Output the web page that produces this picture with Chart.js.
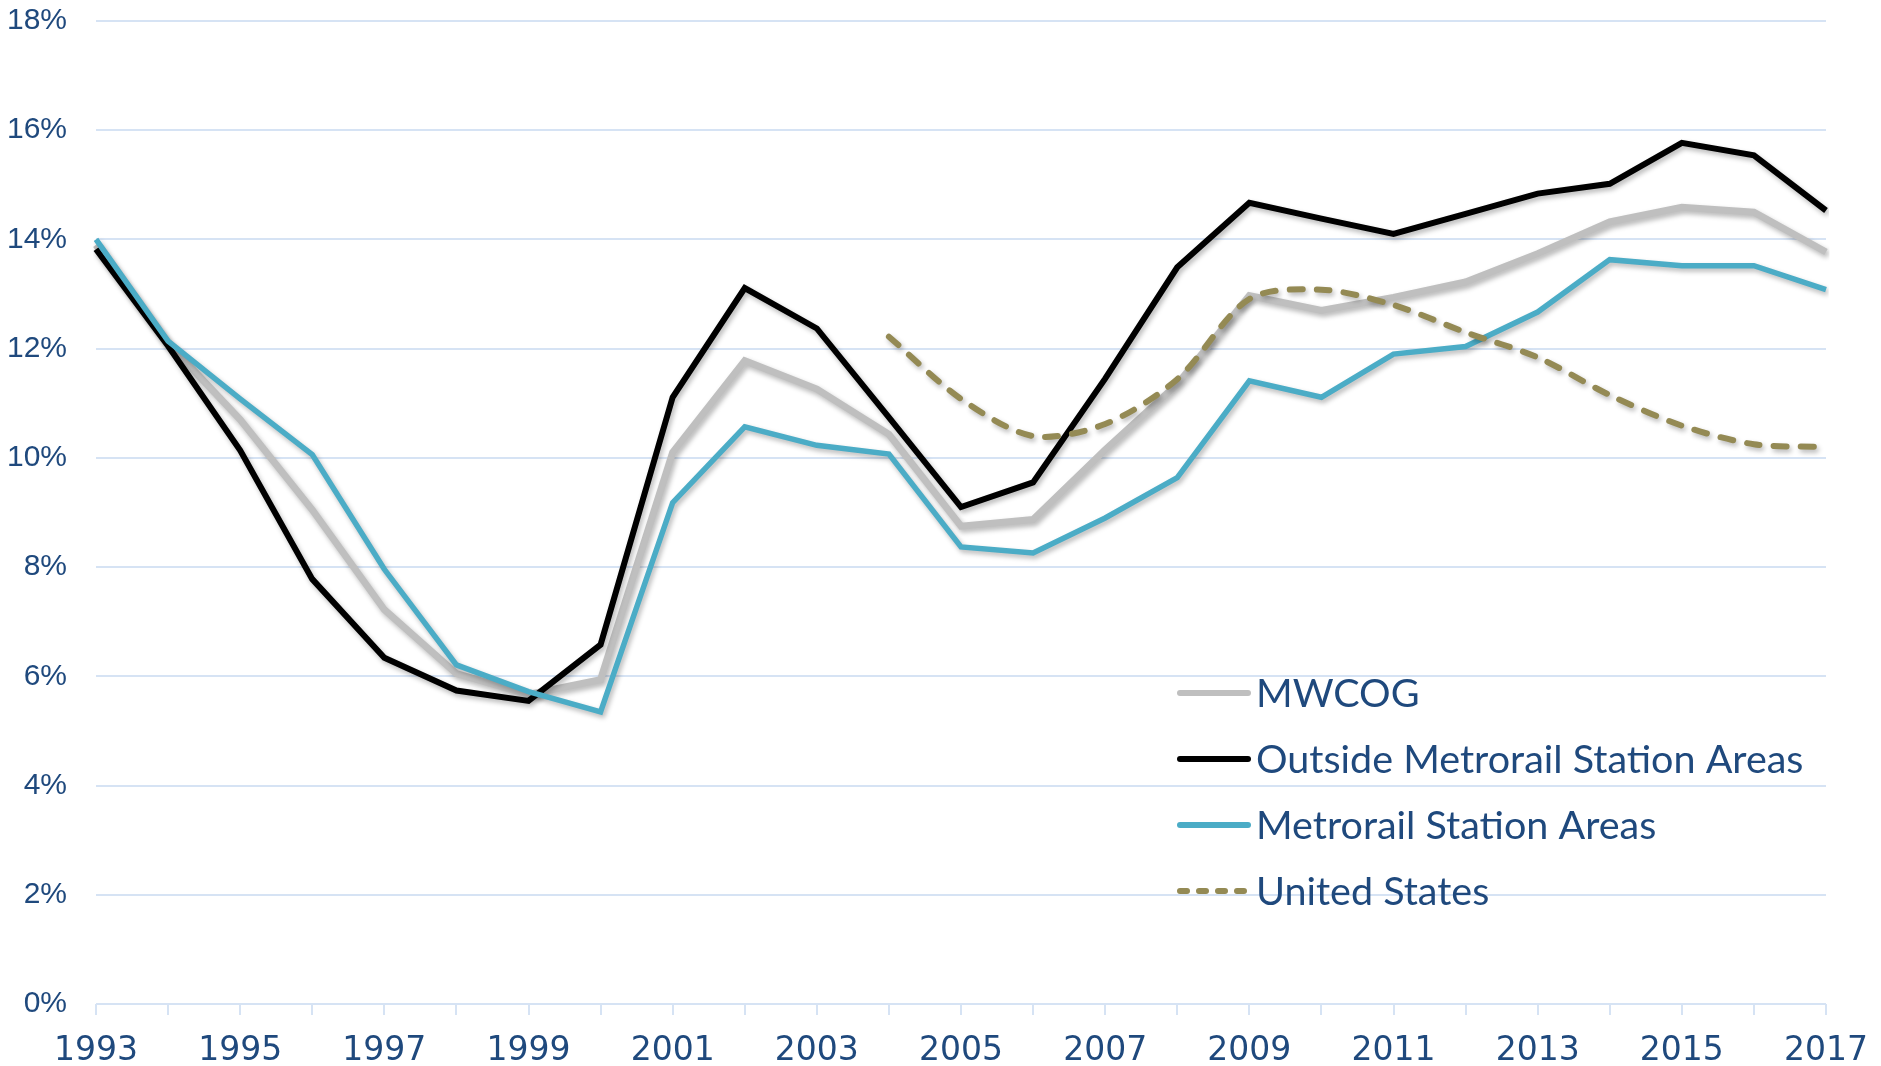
<!DOCTYPE html>
<html>
<head>
<meta charset="utf-8">
<script src="https://cdn.jsdelivr.net/npm/chart.js@4/dist/chart.umd.min.js"></script>
<style>
  html, body { margin: 0; padding: 0; background: #ffffff; }
  #wrap { width: 1881px; height: 1066px; position: relative; }
</style>
</head>
<body>
<div id="wrap"><canvas id="c" width="1881" height="1066"></canvas></div>
<script>
const years = ['1993','1994','1995','1996','1997','1998','1999','2000','2001','2002','2003','2004','2005','2006','2007','2008','2009','2010','2011','2012','2013','2014','2015','2016','2017'];

const mwcog = [13.9, 12.1, 10.7, 9.05, 7.22, 6.05, 5.67, 5.94, 10.1, 11.78, 11.26, 10.43, 8.75, 8.87, 10.15, 11.35, 12.97, 12.70, 12.94, 13.22, 13.74, 14.32, 14.59, 14.50, 13.77];
const outsideMetro = [13.82, 12.05, 10.14, 7.78, 6.34, 5.74, 5.55, 6.58, 11.11, 13.11, 12.37, 10.74, 9.10, 9.55, 11.45, 13.49, 14.67, 14.38, 14.10, 14.47, 14.84, 15.02, 15.77, 15.54, 14.53];
const metroStation = [14.0, 12.14, 11.08, 10.06, 7.96, 6.21, 5.72, 5.35, 9.18, 10.57, 10.23, 10.07, 8.37, 8.26, 8.90, 9.64, 11.41, 11.11, 11.90, 12.04, 12.67, 13.63, 13.52, 13.52, 13.08];
const unitedStates = [null, null, null, null, null, null, null, null, null, null, null, 12.22, 11.08, 10.40, 10.62, 11.44, 12.91, 13.08, 12.80, 12.30, 11.84, 11.15, 10.59, 10.25, 10.20];

const yTicks = [0, 2, 4, 6, 8, 10, 12, 14, 16, 18];

const TEXT = '#1f497d';
const GRID = '#d6e3f4';

const shadowPlugin = {
  id: 'lineShadow',
  beforeDatasetsDraw(chart) {
    const ctx = chart.ctx;
    ctx.save();
    ctx.shadowColor = 'rgba(0,0,0,0.28)';
    ctx.shadowBlur = 5;
    ctx.shadowOffsetX = 2;
    ctx.shadowOffsetY = 3;
  },
  afterDatasetsDraw(chart) {
    chart.ctx.restore();
  }
};

const legendPlugin = {
  id: 'insideLegend',
  afterDraw(chart) {
    const ctx = chart.ctx;
    const rows = [693, 759, 825, 891];
    const x0 = 1180, x1 = 1248, tx = 1256;
    ctx.save();
    chart.data.datasets.forEach((ds, i) => {
      const y = rows[i];
      ctx.beginPath();
      ctx.lineWidth = 6;
      ctx.lineCap = 'round';
      ctx.strokeStyle = ds.borderColor;
      ctx.setLineDash(ds.borderDash ? [7, 12] : []);
      ctx.moveTo(x0, y);
      ctx.lineTo(x1, y);
      ctx.stroke();
      ctx.setLineDash([]);
      ctx.fillStyle = TEXT;
      ctx.font = '39.5px Lato';
      ctx.textBaseline = 'alphabetic';
      ctx.textAlign = 'left';
      ctx.fillText(ds.label, tx, y + 13.5);
    });
    ctx.restore();
  }
};

new Chart(document.getElementById('c'), {
  type: 'line',
  data: {
    labels: years,
    datasets: [
      { label: 'MWCOG', data: mwcog, borderColor: '#bfbfbf', borderWidth: 7, order: 4 },
      { label: 'Outside Metrorail Station Areas', data: outsideMetro, borderColor: '#000000', borderWidth: 6, order: 3 },
      { label: 'Metrorail Station Areas', data: metroStation, borderColor: '#4bacc6', borderWidth: 5.5, order: 2 },
      { label: 'United States', data: unitedStates, borderColor: '#948a54', borderWidth: 6, borderDash: [13, 14], borderCapStyle: 'round', tension: 0.3, order: 1 }
    ]
  },
  options: {
    responsive: false,
    animation: false,
    devicePixelRatio: 1,
    layout: { padding: { top: 21, right: 55, left: 0, bottom: 0 } },
    elements: {
      point: { radius: 0, hoverRadius: 0 },
      line: { tension: 0, borderJoinStyle: 'miter', fill: false }
    },
    plugins: {
      legend: { display: false },
      tooltip: { enabled: false }
    },
    scales: {
      x: {
        type: 'category',
        offset: false,
        border: { display: false },
        grid: { drawOnChartArea: false, drawTicks: true, tickLength: 11, color: GRID, lineWidth: 2 },
        ticks: {
          autoSkip: false,
          maxRotation: 0,
          minRotation: 0,
          padding: 13,
          color: TEXT,
          font: { family: 'DejaVu Sans', size: 33, lineHeight: 1.44 },
          callback: function(value, index) { return index % 2 === 0 ? years[index] : ''; }
        },
        afterFit(scale) { scale.height = 62; }
      },
      y: {
        min: yTicks[0],
        max: yTicks[yTicks.length - 1],
        border: { display: false },
        grid: { drawTicks: true, tickLength: 29, tickColor: 'rgba(0,0,0,0)', color: GRID, lineWidth: 2 },
        afterBuildTicks(scale) { scale.ticks = yTicks.map(v => ({ value: v })); },
        ticks: {
          padding: 0,
          color: TEXT,
          font: { family: 'Liberation Sans', size: 30 },
          callback: v => v + '%'
        },
        afterFit(scale) { scale.width = 96; }
      }
    }
  },
  plugins: [shadowPlugin, legendPlugin]
});
</script>
</body>
</html>
